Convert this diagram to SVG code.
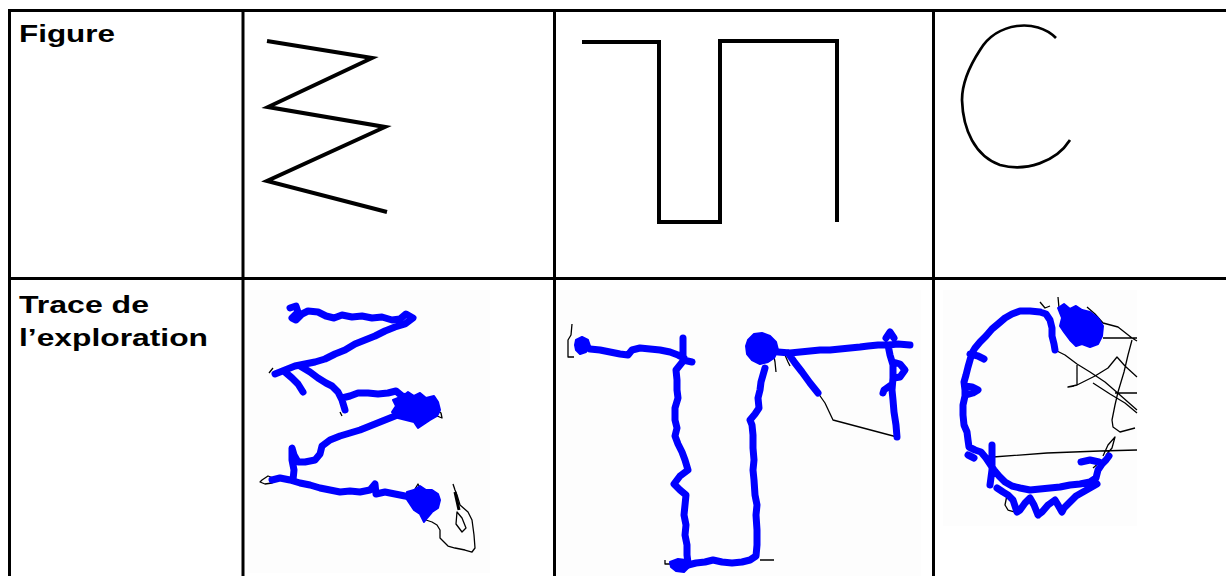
<svg xmlns="http://www.w3.org/2000/svg" width="1226" height="576" viewBox="0 0 1226 576">
<style>
.grid{stroke:#000;stroke-width:3;fill:none}
.lbl{font-family:"Liberation Sans",Arial,sans-serif;font-weight:bold;font-size:24px;fill:#000}
.fig{fill:none;stroke:#000;stroke-width:4;stroke-linejoin:miter}
.blue{fill:none;stroke:#0000ff;stroke-width:7;stroke-linejoin:round;stroke-linecap:round}
.blob{fill:#0000ff;stroke:#0000ff;stroke-width:2;stroke-linejoin:round}
.thin{fill:none;stroke:#000;stroke-width:1.3;stroke-linejoin:round}
.bg{fill:#fdfdfd}
</style>
<rect width="1226" height="576" fill="#fff"/>
<g id="table-lines">
<line class="grid" x1="8" y1="10.5" x2="1226" y2="10.5"/>
<line class="grid" x1="8" y1="278.5" x2="1226" y2="278.5"/>
<line class="grid" x1="9.5" y1="9" x2="9.5" y2="576"/>
<line class="grid" x1="243" y1="9" x2="243" y2="576"/>
<line class="grid" x1="554.5" y1="9" x2="554.5" y2="576"/>
<line class="grid" x1="933.5" y1="9" x2="933.5" y2="576"/>
</g>
<g id="label-figure">
<text class="lbl" x="19" y="42" textLength="96" lengthAdjust="spacingAndGlyphs">Figure</text>
</g>
<g id="label-trace">
<text class="lbl" x="19" y="313" textLength="130" lengthAdjust="spacingAndGlyphs">Trace de</text>
<text class="lbl" x="19" y="346" textLength="189" lengthAdjust="spacingAndGlyphs">l’exploration</text>
</g>
<g id="figure-zigzag">
<polyline class="fig" points="267,41 372,58 268,107 385,127 267,181 387,212"/>
</g>
<g id="figure-square">
<polyline class="fig" points="582,42 659,42 659,222 720,222 720,41 837,41 837,222"/>
</g>
<g id="figure-c">
<path d="M1056,38 C1036,18 997,22 980,50 C967,70 962,88 962,100 C963,130 975,156 1000,165 C1026,172 1056,162 1070,140" fill="none" stroke="#000" stroke-width="2.7"/>
</g>
<g id="trace-zigzag">
<rect class="bg" x="248" y="290" width="242" height="283"/>
<path class="thin" d="M262,480 L268,476 L276,479 L272,483 L265,484 L260,482 Z"/>
<path class="thin" d="M423,513 L426,520 L432,522 L437,525 L440,530 L440,538 L444,542 L448,546 L455,548 L465,550 L472,552 L475,548 L474,535 L472,520 L468,512 L460,505 L457,495 L455,490 L453,484"/>
<path class="thin" d="M457,512 L462,518 L466,528 L462,532 L456,524 Z"/>
<path d="M455,492 L459,510" stroke="#000" stroke-width="3"/>
<path class="thin" d="M415,489 L418,484 L421,490 M437,410 L441,413 L442,418 L437,416 M269,373 L273,368 M340,412 L342,416"/>
<path class="blue" d="M290,308 L296,306 L298,312 L292,318 L296,320 L302,314 L308,311 L318,312 L326,316 L334,318 L342,315 L352,317 L362,316 L372,318 L382,317 L392,320 L400,319 L406,314 L413,318 L405,324 L395,327 L385,331 L375,336 L365,340 L355,344 L345,350 L335,354 L325,359 L315,362 L305,364 L295,366 L285,370 L275,374"/>
<path class="blue" d="M285,372 L292,378 L298,384 L303,392 M300,366 L310,372 L318,378 L326,383 L332,386 L338,392 L342,400 L345,410 M342,398 L350,396 L358,393 L368,393 L378,394 L388,393 L396,391 L402,396 L410,398"/>
<path class="blob" d="M393,400 L403,396 L408,392 L414,396 L420,393 L426,398 L434,396 L438,402 L440,410 L437,416 L430,420 L424,424 L418,428 L414,422 L406,420 L398,418 L392,412 L396,406 Z"/>
<path class="blue" d="M410,410 L400,414 L390,418 L380,422 L370,426 L360,430 L350,433 L340,436 L330,440 L322,446 L320,454 L315,460 L305,462 L298,462 L294,455 L292,448 L292,460 L294,470 L293,480 M272,480 L280,478 L290,480 L300,483 L310,485 L320,488 L330,490 L340,492 L350,491 L360,492 L370,490 L375,484 L376,494 L385,492 L395,494 L405,496 L412,498"/>
<path class="blob" d="M407,492 L414,490 L420,486 L426,490 L432,490 L438,494 L440,500 L438,508 L432,512 L427,518 L424,522 L420,514 L414,510 L410,504 L406,498 Z"/>
</g>
<g id="trace-square">
<rect class="bg" x="557" y="290" width="364" height="286"/>
<path class="thin" d="M818,393 L825,403 L833,420 L897,437 M572,324 L571,335 L568,340 L568,357 L574,357 M773,352 L775,362 L776,372 M785,355 L788,362 L790,366 M665,560 L665,564 L673,564 M760,560 L774,560"/>
<path class="blob" d="M576,340 L582,337 L588,340 L590,346 L586,352 L580,354 L576,350 L575,345 Z"/>
<path class="blue" d="M590,349 L600,350 L610,352 L620,354 L628,355 L632,350 L640,348 L650,349 L660,350 L670,352 L678,355 L684,358 M683,338 L683,360 L692,362 M684,360 L676,370 L677,380 L677,390 L678,398 L675,408 L675,420 L677,428 L675,436 L678,444 L682,452 L685,460 L688,470 L680,476 L674,484 L680,490 L686,495 L685,505 L684,515 L686,525 L685,535 L687,545 L687,555 L688,563"/>
<path class="blob" d="M670,562 L678,559 L686,560 L690,566 L684,572 L676,571 L671,567 Z"/>
<path class="blue" d="M680,566 L688,565 L696,563 L705,562 L713,560 L722,562 L732,563 L742,562 L750,560 L756,556 L757,545 L757,530 L756,515 L757,505 L755,495 L754,480 L753,470 L754,460 L753,448 L753,435 L752,425 L750,420 L755,414 L759,408 L758,398 L760,390 L761,382 L763,375 L765,368"/>
<path class="blob" d="M748,340 L754,334 L762,333 L770,336 L776,342 L778,350 L774,358 L768,362 L760,364 L752,360 L747,354 L746,346 Z"/>
<path class="blue" d="M778,352 L790,353 L800,352 L810,351 L820,350 L830,350 L840,349 L850,348 L860,347 L868,346 L878,345 L888,345 L898,344 L910,345 M788,353 L795,363 L802,372 L810,383 L818,393 M888,345 L890,355 L893,365 L893,378 L892,390 L893,400 L894,412 L896,425 L897,437 M893,362 L900,364 L905,370 L900,377 L894,378 M891,385 L884,390 L883,393 M886,338 L890,332 L894,338"/>
</g>
<g id="trace-c">
<rect class="bg" x="943" y="290" width="194" height="236"/>
<path class="thin" d="M1055,350 L1065,355 L1077,364 L1090,372 L1105,382 L1120,395 L1137,410 M1077,365 L1077,385 L1068,387 L1074,386 M1077,385 L1095,376 L1108,368 L1117,357 L1125,366 L1137,377 M1093,383 L1110,394 L1125,403 L1137,413 M1132,340 L1128,355 L1124,372 L1118,392 L1115,405 L1112,420 L1113,427 L1120,432 L1135,428 M1115,393 L1137,393 M1087,307 L1095,314 L1103,323 L1118,327 L1132,338 L1137,341 M1103,338 L1137,338 M993,457 L1047,453 L1100,451 L1137,450 M1103,456 L1108,445 L1115,437 L1112,448 L1106,455 M1058,297 L1059,308 L1060,313 M1040,302 L1045,308 L1050,306 M1007,495 L1005,505 L1008,510 L1015,512 M1037,515 L1040,518 M1060,512 L1064,510 M1100,462 L1093,468"/>
<path class="blue" d="M1040,312 L1030,311 L1020,311 L1012,314 L1005,318 L998,324 L992,329 L986,336 L980,342 L975,348 L972,353 L970,360 L968,367 L966,375 L964,382 L965,390 L965,396 L963,405 L963,415 L964,425 L967,432 L968,440 L969,447 L975,450 L981,452 L986,458 L990,464 L994,470 L999,476 L1005,482 L1012,486 L1020,488 L1030,490 L1040,489 L1050,488 L1060,487 L1070,485 L1080,484 L1090,482 L1096,478 L1098,470 L1102,464 L1106,460 L1109,456 M1081,462 L1090,460 L1099,462 M970,354 L978,356 L984,359 M965,386 L972,387 L978,390 L973,393 L966,395 M968,455 L974,458 M992,445 L992,462 L992,470 L990,485 M1097,484 L1090,488 L1083,492 L1076,496 L1070,502 L1064,508 L1062,512 L1058,505 L1055,500 L1048,505 L1042,512 L1038,515 L1034,505 L1030,498 L1025,503 L1020,510 L1017,512 L1013,500 L1008,495 L1003,492 L997,488 M1040,312 L1046,314 L1050,320 L1052,328 L1052,336 L1054,344 L1055,350"/>
<path class="blob" d="M1058,308 L1064,304 L1070,309 L1076,306 L1082,310 L1090,312 L1098,318 L1103,326 L1102,336 L1098,344 L1090,347 L1082,344 L1076,346 L1070,340 L1064,332 L1060,326 L1062,318 Z"/>
</g>
</svg>
